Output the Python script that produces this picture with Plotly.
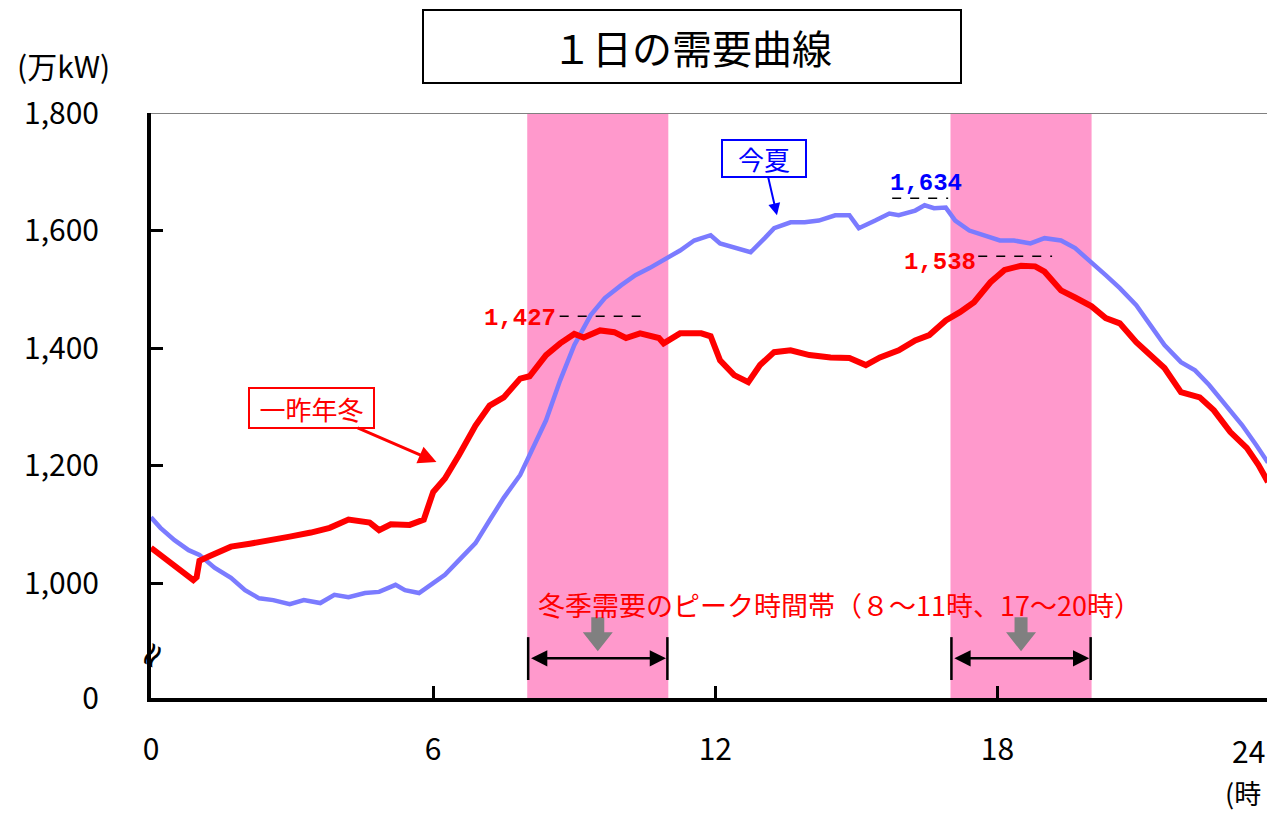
import plotly.graph_objects as go

# ---------------- data ----------------
red_hours = [0, 0.3, 0.6, 0.9, 0.97, 1.03, 1.25, 1.7, 2.1, 2.5, 2.95, 3.4, 3.8, 4.2, 4.65, 4.85,
             5.1, 5.5, 5.8, 6.0, 6.25, 6.55, 6.9, 7.2, 7.5, 7.85, 8.05, 8.4, 8.7, 9.0, 9.2, 9.55,
             9.85, 10.1, 10.4, 10.8, 10.9, 11.25, 11.7, 11.9, 12.1, 12.4, 12.7, 12.95, 13.25, 13.6,
             14.0, 14.45, 14.85, 15.2, 15.5, 15.9, 16.25, 16.55, 16.9, 17.2, 17.5, 17.85, 18.15,
             18.5, 18.8, 19.0, 19.35, 19.65, 20.0, 20.3, 20.6, 20.95, 21.25, 21.55, 21.9, 22.1,
             22.3, 22.6, 22.95, 23.3, 23.55, 23.75]
red_values = [1060, 1042, 1025, 1005, 1010, 1038, 1046, 1062, 1067, 1072, 1079, 1086, 1094, 1108,
              1103, 1090, 1100, 1099, 1108, 1155, 1178, 1218, 1268, 1302, 1316, 1348, 1352, 1388,
              1408, 1424, 1418, 1430, 1427, 1417, 1425, 1417, 1408, 1425, 1425, 1420, 1379, 1354,
              1342, 1371, 1393, 1396, 1388, 1384, 1383, 1371, 1384, 1396, 1413, 1422, 1447, 1461,
              1478, 1512, 1533, 1540, 1539, 1530, 1498, 1486, 1471, 1451, 1442, 1410, 1388, 1366,
              1325, 1320, 1316, 1294, 1257, 1230, 1201, 1172]

blue_hours = [0, 0.2, 0.5, 0.8, 1.03, 1.35, 1.7, 2.0, 2.3, 2.6, 2.95, 3.25, 3.6, 3.9, 4.2, 4.55,
              4.85, 5.2, 5.4, 5.7, 6.0, 6.25, 6.55, 6.9, 7.2, 7.5, 7.85, 8.05, 8.4, 8.7, 9.0, 9.35,
              9.65, 10.0, 10.3, 10.6, 10.9, 11.25, 11.55, 11.9, 12.1, 12.4, 12.75, 13.05, 13.25,
              13.6, 13.9, 14.2, 14.55, 14.85, 15.05, 15.4, 15.7, 15.9, 16.25, 16.45, 16.65, 16.9,
              17.1, 17.4, 17.75, 18.05, 18.35, 18.7, 19.0, 19.35, 19.65, 20.0, 20.3, 20.6, 20.95,
              21.25, 21.55, 21.9, 22.2, 22.5, 22.85, 23.2, 23.5, 23.75]
blue_values = [1112, 1094, 1073, 1056, 1048, 1026, 1009, 988, 974, 971, 964, 971, 966, 980, 976,
               983, 985, 997, 988, 983, 1000, 1014, 1039, 1068, 1107, 1145, 1184, 1218, 1277, 1345,
               1405, 1456, 1485, 1507, 1524, 1536, 1549, 1566, 1583, 1592, 1578, 1571, 1563, 1587,
               1604, 1614, 1614, 1617, 1626, 1626, 1604, 1617, 1629, 1626, 1634, 1643, 1638, 1639,
               1617, 1600, 1590, 1583, 1583, 1578, 1587, 1583, 1570, 1546, 1524, 1502, 1473, 1439,
               1405, 1376, 1362, 1337, 1303, 1269, 1235, 1205]

peak_windows = [(8, 11), (17, 20)]
y_tick_values = [804.4, 1000, 1200, 1400, 1600, 1800]
y_tick_labels = ["0", "1,000", "1,200", "1,400", "1,600", "1,800"]
x_tick_values = [0, 6, 12, 18]
x_tick_labels = ["0", "6", "12", "18"]

JP = "Noto Sans CJK JP"
MONO = "Liberation Mono"

fig = go.Figure()

# peak-time bands
for a, b in peak_windows:
    fig.add_shape(type="rect", xref="x", yref="paper", x0=a, x1=b, y0=0, y1=1,
                  fillcolor="#FF99CC", line=dict(width=0), layer="below")

fig.add_trace(go.Scatter(x=blue_hours, y=blue_values, mode="lines", name="今夏",
                         line=dict(color="#7B7BFF", width=4.5)))
fig.add_trace(go.Scatter(x=red_hours, y=red_values, mode="lines", name="一昨年冬",
                         line=dict(color="#FF0000", width=6)))

# top grey line at 1,800
fig.add_shape(type="line", xref="paper", yref="y", x0=0, x1=1, y0=1800, y1=1800,
              line=dict(color="#808080", width=2))

# dashed peak lines
for x0, x1, yv in [(8.69, 10.44, 1454), (15.76, 16.95, 1655), (17.59, 19.16, 1556)]:
    fig.add_shape(type="line", xref="x", yref="y", x0=x0, x1=x1, y0=yv, y1=yv,
                  line=dict(color="black", width=1.5, dash="dash"))

ann = []
# title
ann.append(dict(text="１日の需要曲線", xref="paper", yref="paper", x=0.4845, y=1.1137,
                xanchor="center", yanchor="middle",
                showarrow=False, font=dict(family=JP, size=40, color="black"),
                bordercolor="black", borderwidth=2, width=534, height=69, bgcolor="white"))
# units
ann.append(dict(text="(万kW)", xref="paper", yref="paper", x=-0.122, y=1.082,
                xanchor="left", yanchor="middle",
                showarrow=False, font=dict(family=JP, size=30, color="black")))
ann.append(dict(text="24", xref="paper", yref="paper", x=1.0, y=-0.089,
                xanchor="right", yanchor="middle",
                showarrow=False, font=dict(family=JP, size=30, color="black")))
ann.append(dict(text="(時", xref="paper", yref="paper", x=0.996, y=-0.161,
                xanchor="right", yanchor="middle",
                showarrow=False, font=dict(family=JP, size=27, color="black")))
# axis break mark
ann.append(dict(text="≈", xref="paper", yref="y", x=0, y=878, xanchor="center",
                yanchor="middle", textangle=-60,
                showarrow=False, font=dict(family="DejaVu Sans", size=34, color="black")))
# peak value labels
ann.append(dict(text="<b>1,427</b>", x=8.65, y=1451, xanchor="right", showarrow=False,
                font=dict(family=MONO, size=24, color="#FF0000")))
ann.append(dict(text="<b>1,634</b>", x=16.47, y=1680, showarrow=False,
                font=dict(family=MONO, size=24, color="#0000FF")))
ann.append(dict(text="<b>1,538</b>", x=17.58, y=1546, xanchor="right", showarrow=False,
                font=dict(family=MONO, size=24, color="#FF0000")))
# series callouts
ann.append(dict(text="今夏", x=13.31, y=1626, ax=13.03, ay=1723, axref="x", ayref="y",
                showarrow=True, arrowhead=2, arrowsize=1.2, arrowwidth=2, arrowcolor="#0000FF",
                font=dict(family=JP, size=26, color="#0000FF"), bordercolor="#0000FF",
                borderwidth=2, width=80, height=33, bgcolor="white"))
ann.append(dict(text="一昨年冬", x=6.07, y=1206, ax=3.41, ay=1298, axref="x", ayref="y",
                showarrow=True, arrowhead=2, arrowsize=1.2, arrowwidth=3, arrowcolor="#FF0000",
                font=dict(family=JP, size=26, color="#FF0000"), bordercolor="#FF0000",
                borderwidth=2, width=121, height=36, bgcolor="white"))
# peak-time caption
ann.append(dict(text="冬季需要のピーク時間帯（８～11時、17～20時）", x=14.65, y=964,
                showarrow=False, font=dict(family=JP, size=27, color="#FF0000")))
for a, b in peak_windows:
    mid = (a + b) / 2
    # grey block arrow pointing down (pixel-sized, anchored at data position)
    fig.add_shape(type="path", xref="x", yref="y", xsizemode="pixel", ysizemode="pixel",
                  xanchor=mid, yanchor=884,
                  path="M0,0 L-15,19 L-6.5,19 L-6.5,34 L6.5,34 L6.5,19 L15,19 Z",
                  fillcolor="#808080", line=dict(width=0))
    ann.append(dict(text="", x=b - 0.05, y=872, ax=a + 0.05, ay=872, axref="x", ayref="y",
                    showarrow=True, arrowhead=2, arrowside="end+start", arrowsize=1.3,
                    arrowwidth=2.5, arrowcolor="black"))
    for xv in (a + 0.02, b - 0.02):
        fig.add_shape(type="line", xref="x", yref="y", x0=xv, x1=xv, y0=835, y1=908,
                      line=dict(color="black", width=2.5))

fig.update_layout(
    width=1267, height=813,
    margin=dict(l=151, r=0, t=113, b=115),
    paper_bgcolor="white", plot_bgcolor="white",
    showlegend=False,
    annotations=ann,
    xaxis=dict(range=[0, 23.73], tickvals=x_tick_values, ticktext=x_tick_labels,
               showgrid=False, zeroline=False, showline=True, linecolor="black", linewidth=4,
               ticks="inside", ticklen=12, tickwidth=3, tickcolor="black",
               tickfont=dict(family=JP, size=30, color="black"), ticklabelstandoff=22),
    yaxis=dict(range=[804.4, 1800], tickvals=y_tick_values, ticktext=y_tick_labels,
               showgrid=False, zeroline=False, showline=True, linecolor="black", linewidth=4,
               ticks="inside", ticklen=12, tickwidth=3, tickcolor="black",
               tickfont=dict(family=JP, size=30, color="black"), ticklabelstandoff=42),
)

fig.write_html("out.html", config={"displayModeBar": False},
               post_script="document.body.style.margin='0';document.body.style.overflow='hidden';")
